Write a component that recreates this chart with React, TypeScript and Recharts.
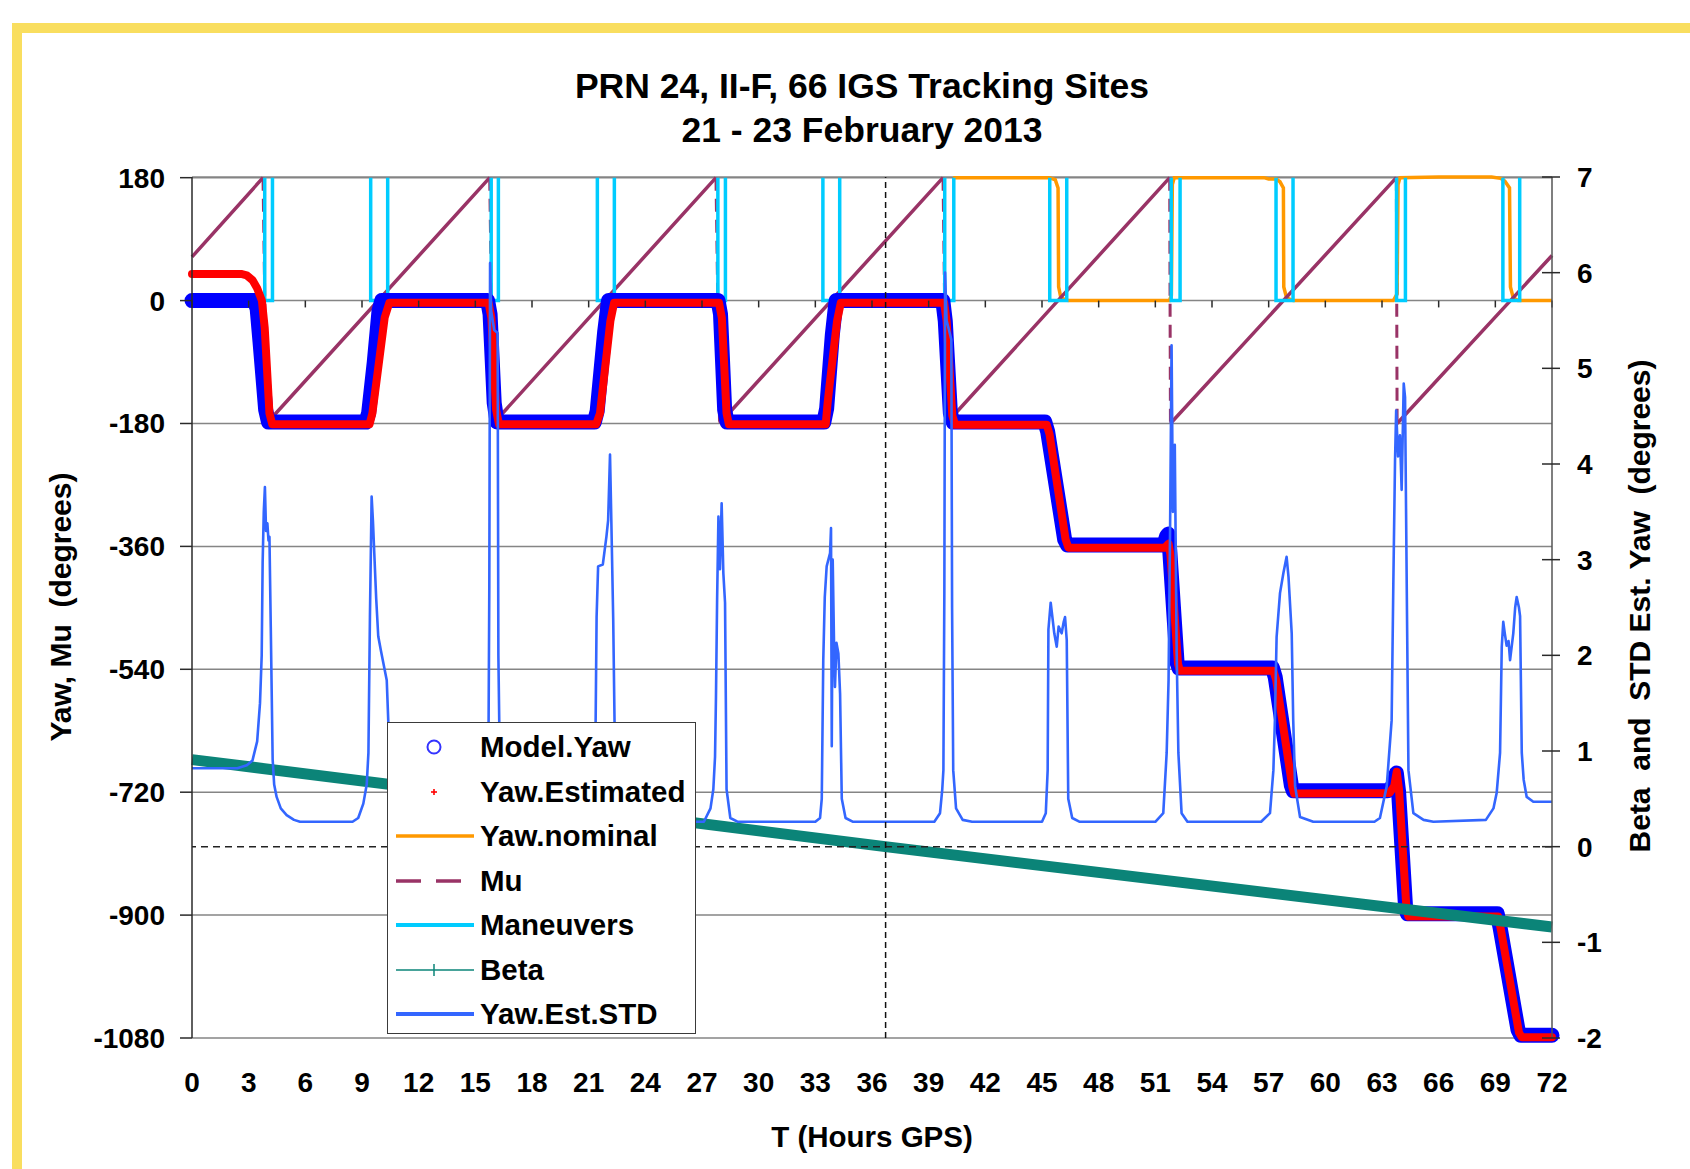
import React from "react";
import { CartesianGrid, ComposedChart, Line, ReferenceLine, XAxis, YAxis } from "recharts";

const FONT = '"Liberation Sans", Arial, Helvetica, sans-serif';

const BLUE = "#0000FF";
const RED = "#FF0000";
const ORANGE = "#FF9900";
const PLUM = "#993366";
const CYAN = "#00CCFF";
const TEAL = "#0B8478";
const STD_BLUE = "#3366FF";
const GRID = "#858585";
const AXIS = "#2a2a2a";
const YELLOW = "#F9DE5F";

type Pt = [number, number];

const X_TICKS = [0, 3, 6, 9, 12, 15, 18, 21, 24, 27, 30, 33, 36, 39, 42, 45, 48, 51, 54, 57, 60, 63, 66, 69, 72];
const LEFT_TICKS = [-1080, -900, -720, -540, -360, -180, 0, 180];
const RIGHT_TICKS = [-2, -1, 0, 1, 2, 3, 4, 5, 6, 7];

// hours GPS, degrees
const MODEL_YAW: Pt[] = [
  [0, 0], [3.3, 0], [3.45, -12], [3.6, -60], [3.9, -160], [4.05, -178], [9.2, -178],
  [9.35, -165], [9.65, -90], [9.9, -15], [10.05, 0], [15.65, 0], [15.78, -20],
  [16.0, -150], [16.15, -178], [21.3, -178], [21.45, -162], [21.85, -45], [22.05, 0],
  [27.85, 0], [27.98, -20], [28.2, -160], [28.33, -178], [33.45, -178], [33.6, -158],
  [33.9, -50], [34.1, 0], [39.75, 0], [39.88, -30], [40.15, -165], [40.3, -178],
  [45.15, -178], [45.3, -192], [46.2, -350], [46.35, -358], [51.45, -358], [51.6, -345],
  [51.68, -342], [51.76, -365], [52.15, -530], [52.25, -538], [57.2, -538], [57.35, -552],
  [58.2, -710], [58.3, -718], [63.3, -718], [63.6, -710], [63.76, -692], [63.88, -720],
  [64.25, -890], [64.35, -898], [69.1, -898], [69.25, -918], [70.2, -1068],
  [70.35, -1076], [72, -1076],
];

const YAW_ESTIMATED: Pt[] = [
  [0, 39], [2.6, 39], [2.9, 37], [3.2, 30], [3.45, 18], [3.7, 0], [3.85, -40],
  [4.1, -165], [4.25, -181], [9.4, -181], [9.55, -165], [10.2, -25], [10.45, -3],
  [15.7, -3], [15.85, -25], [16.1, -160], [16.25, -181], [21.4, -181], [21.6, -165],
  [22.15, -30], [22.35, -3], [27.9, -3], [28.05, -25], [28.3, -165], [28.42, -181],
  [33.55, -181], [33.65, -150], [33.75, -125], [34.15, -30], [34.35, -3], [39.82, -3],
  [39.95, -30], [40.25, -168], [40.4, -182], [45.25, -182], [45.4, -196], [46.25, -350],
  [46.4, -362], [51.5, -362], [51.7, -356], [51.8, -372], [52.2, -532], [52.3, -542],
  [57.25, -542], [57.4, -556], [58.25, -712], [58.35, -722], [63.4, -721], [63.65, -711],
  [63.78, -690], [63.9, -716], [64.3, -893], [64.4, -902], [69.15, -902], [69.3, -922],
  [70.25, -1072], [70.4, -1079], [72, -1079],
];

const YAW_NOMINAL_FIRST: Pt[] = [
  [0, 0], [3.35, 0], [4.05, -180], [9.25, -180], [10.05, 0], [15.7, 0], [16.15, -180],
  [21.3, -180], [22.05, 0], [27.85, 0], [28.3, -180], [33.4, -180], [33.55, -168],
  [33.65, -150], [34.1, 0], [39.75, 0],
];

const YAW_NOMINAL_SECOND: Pt[] = [
  [40.3, 180], [45.4, 180], [45.7, 177], [45.85, 165], [45.88, 20], [46.0, 4], [46.4, 0],
  [51.75, 0], [51.85, 8], [51.9, 170], [52.0, 180], [56.75, 180], [57.0, 178], [57.4, 178],
  [57.6, 174], [57.78, 165], [57.8, 20], [57.95, 4], [58.3, 0], [63.6, 0], [63.8, 10],
  [63.85, 170], [63.95, 180], [66.0, 181], [68.8, 181], [69.28, 179], [69.5, 175],
  [69.75, 165], [69.8, 20], [69.95, 4], [70.2, 0], [72, 0],
];

const MU_START = 64;
const MU_END = 66;
// times where Mu reaches +180, and where it restarts from -180
const MU_TOPS = [3.76, 15.76, 27.74, 39.76, 51.76, 63.76];
const MU_RESTARTS = [3.95, 15.95, 27.93, 39.93, 51.8, 63.8];

// [start, end] of each yaw maneuver, hours
const MANEUVERS: Pt[] = [
  [3.85, 4.26], [9.46, 10.36], [15.84, 16.22], [21.46, 22.36], [27.84, 28.24],
  [33.4, 34.29], [39.85, 40.33], [45.41, 46.31], [51.84, 52.31], [57.39, 58.29],
  [63.77, 64.24], [69.4, 70.29],
];

const BETA: Pt[] = [[0, 0.91], [36.7, 0.0], [72, -0.84]];

const YAW_EST_STD: Pt[] = [
  [0, 0.82], [2.4, 0.82], [2.9, 0.85], [3.2, 0.9], [3.45, 1.1], [3.6, 1.5], [3.69, 2.0],
  [3.74, 2.97], [3.8, 3.5], [3.86, 3.76], [3.92, 3.3], [3.99, 3.38], [4.05, 3.2],
  [4.1, 3.24], [4.17, 2.3], [4.27, 0.91], [4.35, 0.65], [4.48, 0.52], [4.7, 0.4],
  [5.01, 0.33], [5.4, 0.28], [5.72, 0.26], [8.5, 0.26], [8.8, 0.3], [9.07, 0.45],
  [9.25, 0.65], [9.34, 0.98], [9.42, 2.4], [9.51, 3.66], [9.58, 3.4], [9.65, 3.07],
  [9.75, 2.6], [9.86, 2.2], [10.0, 2.05], [10.13, 1.92], [10.31, 1.74], [10.39, 1.32],
  [10.45, 0.9], [10.6, 0.5], [11.0, 0.33], [11.6, 0.26], [15.0, 0.26], [15.4, 0.35],
  [15.6, 0.6], [15.7, 1.2], [15.74, 2.72], [15.78, 6.1], [15.84, 5.6], [16.0, 5.4],
  [16.18, 5.37], [16.22, 2.0], [16.3, 0.8], [16.5, 0.4], [17.0, 0.28], [17.5, 0.26],
  [20.7, 0.26], [21.1, 0.4], [21.35, 0.9], [21.42, 2.4], [21.5, 2.93], [21.75, 2.95],
  [21.94, 3.24], [22.03, 3.41], [22.13, 4.1], [22.2, 3.41], [22.3, 2.37], [22.39, 1.0],
  [22.5, 0.55], [22.9, 0.3], [23.4, 0.26], [27.1, 0.26], [27.45, 0.4], [27.6, 0.6],
  [27.69, 0.94], [27.74, 1.57], [27.8, 2.58], [27.87, 3.45], [27.95, 2.9], [28.04, 3.59],
  [28.13, 2.86], [28.22, 2.55], [28.3, 0.6], [28.5, 0.3], [28.9, 0.26], [33.0, 0.26],
  [33.25, 0.3], [33.34, 0.5], [33.42, 1.95], [33.5, 2.61], [33.6, 2.93], [33.78, 3.07],
  [33.83, 3.33], [33.87, 1.05], [33.92, 3.0], [34.0, 2.0], [34.04, 1.67], [34.12, 2.13],
  [34.22, 2.02], [34.31, 1.6], [34.4, 0.5], [34.6, 0.3], [35.0, 0.26], [39.3, 0.26],
  [39.6, 0.35], [39.72, 0.6], [39.78, 0.8], [39.83, 2.65], [39.87, 6.0], [39.95, 5.5],
  [40.2, 5.3], [40.24, 2.5], [40.3, 0.8], [40.45, 0.4], [40.8, 0.28], [41.3, 0.26],
  [45.0, 0.26], [45.2, 0.35], [45.3, 0.8], [45.34, 2.27], [45.46, 2.55], [45.55, 2.4],
  [45.65, 2.23], [45.78, 2.09], [45.88, 2.3], [46.04, 2.23], [46.15, 2.35], [46.22, 2.4],
  [46.31, 2.16], [46.39, 0.5], [46.6, 0.3], [47.0, 0.26], [51.0, 0.26], [51.42, 0.35],
  [51.6, 0.98], [51.7, 1.74], [51.78, 3.3], [51.86, 5.24], [51.93, 3.5], [52.03, 4.2],
  [52.13, 2.02], [52.22, 0.98], [52.39, 0.35], [52.7, 0.26], [56.6, 0.26], [57.07, 0.35],
  [57.25, 0.8], [57.33, 1.32], [57.42, 2.19], [57.6, 2.65], [57.78, 2.86], [57.95, 3.03],
  [58.05, 2.82], [58.22, 2.23], [58.3, 1.32], [58.4, 0.63], [58.66, 0.31], [59.36, 0.26],
  [62.6, 0.26], [62.89, 0.3], [63.25, 0.63], [63.51, 1.32], [63.6, 2.75], [63.69, 4.04],
  [63.75, 4.56], [63.85, 4.08], [63.95, 4.3], [64.04, 3.73], [64.15, 4.84], [64.22, 4.7],
  [64.31, 2.72], [64.4, 0.8], [64.66, 0.35], [65.2, 0.28], [65.72, 0.26], [68.5, 0.28],
  [68.9, 0.4], [69.07, 0.56], [69.25, 0.98], [69.34, 2.09], [69.42, 2.35], [69.5, 2.23],
  [69.6, 2.1], [69.7, 2.15], [69.78, 1.95], [69.95, 2.23], [70.05, 2.5], [70.13, 2.61],
  [70.25, 2.5], [70.31, 2.41], [70.4, 0.98], [70.5, 0.7], [70.66, 0.52], [71.01, 0.47],
  [72, 0.47],
];

const VERTICAL_MARK = 36.72;

type Row = { t: number; v: number | null };

const toRows = (pts: Pt[]): Row[] => pts.map(([t, v]) => ({ t, v }));

const modelYawData = toRows(MODEL_YAW);
const yawEstData = toRows(YAW_ESTIMATED);
const yawNominalData: Row[] = [
  ...toRows(YAW_NOMINAL_FIRST),
  { t: 39.75, v: null },
  ...toRows(YAW_NOMINAL_SECOND),
];

// rising parts of Mu (solid) and the wrap-around jumps (dashed)
const muRiseData: Row[] = [];
{
  let start: Row = { t: 0, v: MU_START };
  MU_TOPS.forEach((top, i) => {
    muRiseData.push(start, { t: top, v: 180 }, { t: top, v: null });
    start = { t: MU_RESTARTS[i], v: -180 };
  });
  muRiseData.push(start, { t: 72, v: MU_END });
}
const muWrapData: Row[] = MU_TOPS.flatMap((top, i) => [
  { t: top, v: 180 },
  { t: MU_RESTARTS[i], v: -180 },
  { t: MU_RESTARTS[i], v: null },
]);

const maneuverData: Row[] = MANEUVERS.flatMap(([a, b]) => [
  { t: a, v: 180 },
  { t: a, v: 0 },
  { t: b, v: 0 },
  { t: b, v: 180 },
  { t: b, v: null },
]);

const betaData = toRows(BETA);
const stdData = toRows(YAW_EST_STD);

const tickText = { fontSize: 28, fontWeight: 700, fontFamily: FONT, fill: "#000" };

function LeftTick({ x, y, payload }: any) {
  return (
    <text x={x} y={y} dy={10} textAnchor="end" {...tickText}>
      {payload.value}
    </text>
  );
}

function RightTick({ x, y, payload }: any) {
  return (
    <g>
      <line x1={x - 35} x2={x - 17} y1={y} y2={y} stroke={AXIS} strokeWidth={1.5} />
      <text x={x} y={y} dy={10} textAnchor="start" {...tickText}>
        {payload.value}
      </text>
    </g>
  );
}

function BottomTick({ x, y, payload }: any) {
  return (
    <text x={x} y={y} dy={20} textAnchor="middle" {...tickText}>
      {payload.value}
    </text>
  );
}

const LEGEND_ROWS = [
  "Model.Yaw",
  "Yaw.Estimated",
  "Yaw.nominal",
  "Mu",
  "Maneuvers",
  "Beta",
  "Yaw.Est.STD",
];

function LegendSymbol({ name }: { name: string }) {
  let mark: React.ReactNode = null;
  if (name === "Model.Yaw")
    mark = <circle cx={46} cy={22} r={6.5} fill="none" stroke="#3333FF" strokeWidth={2} />;
  else if (name === "Yaw.Estimated")
    mark = (
      <g stroke={RED} strokeWidth={1.6}>
        <line x1={43} x2={49} y1={22} y2={22} />
        <line x1={46} x2={46} y1={19} y2={25} />
      </g>
    );
  else if (name === "Yaw.nominal")
    mark = <line x1={8} x2={86} y1={22} y2={22} stroke={ORANGE} strokeWidth={3.5} />;
  else if (name === "Mu")
    mark = (
      <line x1={8} x2={80} y1={22} y2={22} stroke={PLUM} strokeWidth={3.5} strokeDasharray="25 15" />
    );
  else if (name === "Maneuvers")
    mark = <line x1={8} x2={86} y1={22} y2={22} stroke={CYAN} strokeWidth={4} />;
  else if (name === "Beta")
    mark = (
      <g stroke={TEAL} strokeWidth={1.5}>
        <line x1={8} x2={86} y1={22} y2={22} />
        <line x1={46} x2={46} y1={16} y2={28} />
      </g>
    );
  else mark = <line x1={8} x2={86} y1={22} y2={22} stroke={STD_BLUE} strokeWidth={4} />;
  return (
    <svg width={92} height={44} style={{ position: "absolute", left: 0, top: 0 }}>
      {mark}
    </svg>
  );
}

function ChartLegend() {
  return (
    <div
      style={{
        position: "absolute",
        left: 387,
        top: 722,
        width: 309,
        height: 312,
        boxSizing: "border-box",
        background: "#fff",
        border: "1.5px solid #3a3a3a",
        zIndex: 2,
      }}
    >
      {LEGEND_ROWS.map((name, i) => (
        <div
          key={name}
          style={{ position: "absolute", left: 0, top: 2 + i * 44.5, width: 300, height: 44 }}
        >
          <LegendSymbol name={name} />
          <div
            style={{
              position: "absolute",
              left: 92,
              top: 0,
              height: 44,
              lineHeight: "44px",
              fontSize: 29.5,
              fontWeight: 700,
              fontFamily: FONT,
              color: "#000",
              whiteSpace: "pre",
            }}
          >
            {name}
          </div>
        </div>
      ))}
    </div>
  );
}

const textBase: React.CSSProperties = {
  position: "absolute",
  fontFamily: FONT,
  fontWeight: 700,
  color: "#000",
  whiteSpace: "pre",
  lineHeight: 1,
  zIndex: 3,
};

export default function App() {
  return (
    <div
      style={{
        position: "absolute",
        left: 0,
        top: 0,
        width: 1690,
        height: 1169,
        background: "#fff",
        overflow: "hidden",
      }}
    >
      <div
        style={{
          position: "absolute",
          left: 12,
          top: 23,
          width: 2000,
          height: 2000,
          boxSizing: "border-box",
          border: `10px solid ${YELLOW}`,
        }}
      />
      <div style={{ position: "absolute", left: 0, top: 0 }}>
        <ComposedChart width={1690} height={1169} margin={{ top: 177, right: 58, bottom: 71, left: 92 }}>
          <CartesianGrid
            yAxisId="left"
            vertical={false}
            stroke={GRID}
            strokeWidth={1.5}
          />
          <XAxis
            dataKey="t"
            type="number"
            domain={[0, 72]}
            ticks={X_TICKS}
            interval={0}
            axisLine={false}
            tickLine={false}
            tickSize={6}
            tickMargin={28}
            height={60}
            tick={<BottomTick />}
          />
          <YAxis
            yAxisId="left"
            type="number"
            domain={[-1080, 180]}
            ticks={LEFT_TICKS}
            interval={0}
            width={100}
            tickSize={12}
            tickMargin={15}
            axisLine={{ stroke: AXIS, strokeWidth: 1.5 }}
            tickLine={{ stroke: AXIS, strokeWidth: 1.5 }}
            tick={<LeftTick />}
          />
          <YAxis
            yAxisId="right"
            orientation="right"
            type="number"
            domain={[-2, 7]}
            ticks={RIGHT_TICKS}
            interval={0}
            width={80}
            tickSize={8}
            tickMargin={17}
            axisLine={{ stroke: "#555", strokeWidth: 1.5 }}
            tickLine={false}
            tick={<RightTick />}
          />

          <Line
            data={yawNominalData}
            dataKey="v"
            yAxisId="left"
            stroke={ORANGE}
            strokeWidth={3.5}
            dot={false}
            activeDot={false}
            connectNulls={false}
            isAnimationActive={false}
          />
          <Line
            data={muRiseData}
            dataKey="v"
            yAxisId="left"
            stroke={PLUM}
            strokeWidth={3.5}
            dot={false}
            activeDot={false}
            connectNulls={false}
            isAnimationActive={false}
          />
          <Line
            data={muWrapData}
            dataKey="v"
            yAxisId="left"
            stroke={PLUM}
            strokeWidth={3}
            strokeDasharray="13 8"
            dot={false}
            activeDot={false}
            connectNulls={false}
            isAnimationActive={false}
          />
          <Line
            data={maneuverData}
            dataKey="v"
            yAxisId="left"
            stroke={CYAN}
            strokeWidth={3.5}
            dot={false}
            activeDot={false}
            connectNulls={false}
            isAnimationActive={false}
          />
          <Line
            data={modelYawData}
            dataKey="v"
            yAxisId="left"
            stroke={BLUE}
            strokeWidth={15}
            strokeLinejoin="round"
            strokeLinecap="round"
            dot={false}
            activeDot={false}
            isAnimationActive={false}
          />
          <Line
            data={yawEstData}
            dataKey="v"
            yAxisId="left"
            stroke={RED}
            strokeWidth={8}
            strokeLinejoin="round"
            strokeLinecap="round"
            dot={false}
            activeDot={false}
            isAnimationActive={false}
          />
          <Line
            data={betaData}
            dataKey="v"
            yAxisId="right"
            stroke={TEAL}
            strokeWidth={11}
            dot={false}
            activeDot={false}
            isAnimationActive={false}
          />
          <Line
            data={stdData}
            dataKey="v"
            yAxisId="right"
            stroke={STD_BLUE}
            strokeWidth={2.6}
            strokeLinejoin="round"
            dot={false}
            activeDot={false}
            isAnimationActive={false}
          />

          {X_TICKS.map((t) => (
            <ReferenceLine
              key={`xt-${t}`}
              yAxisId="left"
              segment={[
                { x: t, y: 0 },
                { x: t, y: -10 },
              ]}
              stroke={AXIS}
              strokeWidth={1.5}
              ifOverflow="visible"
            />
          ))}
          <ReferenceLine
            yAxisId="right"
            y={0}
            stroke="#222"
            strokeWidth={1.5}
            strokeDasharray="7 5"
          />
          <ReferenceLine
            yAxisId="left"
            x={VERTICAL_MARK}
            stroke="#111"
            strokeWidth={1.5}
            strokeDasharray="6 4"
          />
        </ComposedChart>
      </div>

      <div style={{ ...textBase, left: 862, top: 69, fontSize: 35.5, transform: "translateX(-50%)" }}>
        PRN 24, II-F, 66 IGS Tracking Sites
      </div>
      <div style={{ ...textBase, left: 862, top: 113, fontSize: 35.5, transform: "translateX(-50%)" }}>
        21 - 23 February 2013
      </div>
      <div
        style={{
          ...textBase,
          left: 61,
          top: 607,
          fontSize: 30,
          transform: "translate(-50%, -50%) rotate(-90deg)",
        }}
      >
        {"Yaw, Mu  (degrees)"}
      </div>
      <div
        style={{
          ...textBase,
          left: 1640,
          top: 606,
          fontSize: 30,
          transform: "translate(-50%, -50%) rotate(-90deg)",
        }}
      >
        {"Beta  and  STD Est. Yaw  (degrees)"}
      </div>
      <div
        style={{
          ...textBase,
          left: 872,
          top: 1137,
          fontSize: 29.5,
          transform: "translate(-50%, -50%)",
        }}
      >
        T (Hours GPS)
      </div>
      <ChartLegend />
    </div>
  );
}
